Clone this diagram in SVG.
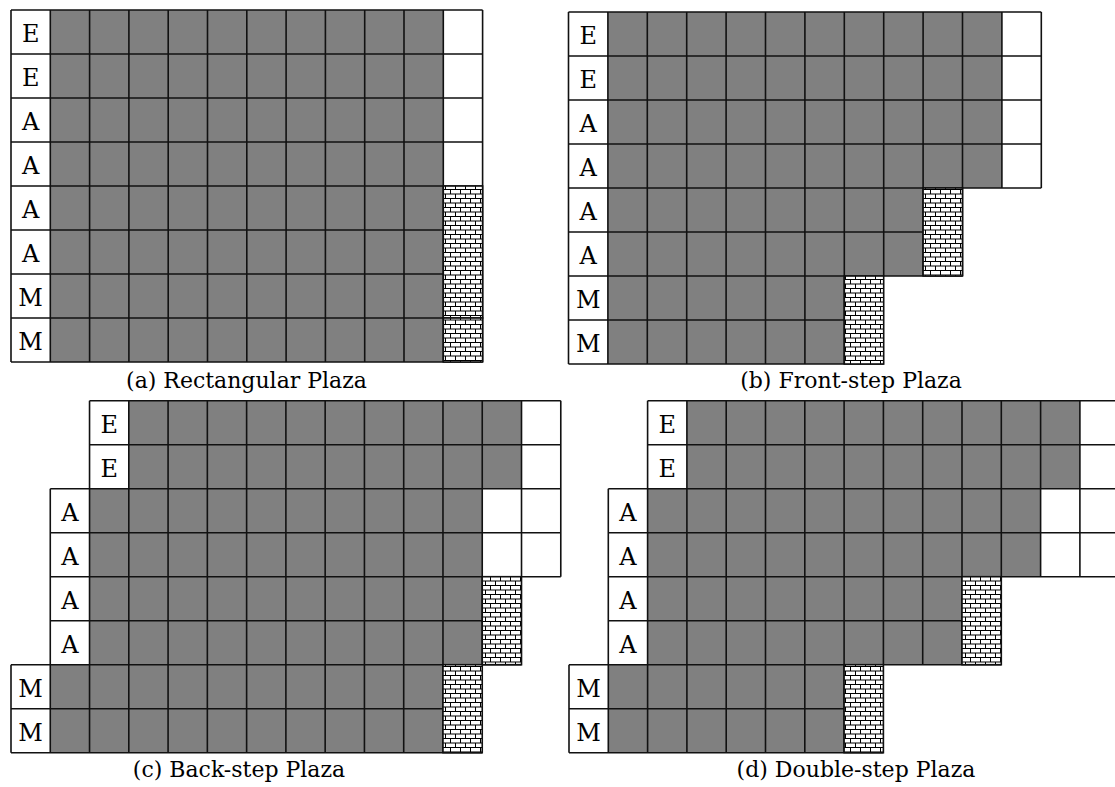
<svg xmlns="http://www.w3.org/2000/svg" width="1115" height="787" viewBox="0 0 1115 787">
<style>
.w{fill:#fff}
.g{fill:#808080}
.b{fill:url(#brick);stroke:#111;stroke-width:1.6}
.grid{fill:none;stroke:#111;stroke-width:1.6}
.lt{font-family:"DejaVu Serif","Liberation Serif",serif;font-size:24px;fill:#000;text-anchor:middle}
.cap{font-family:"DejaVu Serif","Liberation Serif",serif;font-size:22px;fill:#000;text-anchor:middle}
</style>
<defs>
<pattern id="brick" patternUnits="userSpaceOnUse" width="10" height="9">
<rect width="10" height="9" fill="#fff"/>
<path d="M0 0.5H10M0 5H10M0.5 0.5V5M5.5 5V9" fill="none" stroke="#000" stroke-width="1"/>
</pattern>
</defs>
<rect width="1115" height="787" fill="#fff"/>

<g id="panel-a">
<rect class="w" x="11" y="10" width="39.3" height="352"/>
<rect class="g" x="50.3" y="10" width="393" height="352"/>
<rect class="w" x="443.3" y="10" width="39.3" height="176"/>
<path class="grid" d="M11 10H482.6M11 54H482.6M11 98H482.6M11 142H482.6M11 186H482.6M11 230H443.3M11 274H443.3M11 318H443.3M11 362H482.6
M11 10V362M50.3 10V362M89.6 10V362M128.9 10V362M168.2 10V362M207.5 10V362M246.8 10V362M286.1 10V362M325.4 10V362M364.7 10V362M404 10V362M443.3 10V362M482.6 10V362"/>
<rect class="b" x="443.3" y="186" width="39.3" height="132"/>
<rect class="b" x="443.3" y="318" width="39.3" height="44"/>
<text class="lt" x="30.65" y="42">E</text>
<text class="lt" x="30.65" y="86">E</text>
<text class="lt" x="30.65" y="130">A</text>
<text class="lt" x="30.65" y="174">A</text>
<text class="lt" x="30.65" y="218">A</text>
<text class="lt" x="30.65" y="262">A</text>
<text class="lt" x="30.65" y="306">M</text>
<text class="lt" x="30.65" y="350">M</text>
<text class="cap" x="246.5" y="388">(a) Rectangular Plaza</text>
</g>

<g id="panel-b">
<rect class="w" x="568.5" y="12" width="39.4" height="352"/>
<rect class="g" x="607.9" y="12" width="394" height="176"/>
<rect class="w" x="1001.9" y="12" width="39.4" height="176"/>
<rect class="g" x="607.9" y="188" width="315.2" height="88"/>
<rect class="g" x="607.9" y="276" width="236.4" height="88"/>
<path class="grid" d="M568.5 12H1041.3M568.5 56H1041.3M568.5 100H1041.3M568.5 144H1041.3M568.5 188H1041.3M568.5 232H923.1M568.5 276H962.5M568.5 320H844.3M568.5 364H883.7
M568.5 12V364M607.9 12V364M647.3 12V364M686.7 12V364M726.1 12V364M765.5 12V364M804.9 12V364M844.3 12V364
M883.7 12V276M923.1 12V276M962.5 12V276M1001.9 12V188M1041.3 12V188"/>
<rect class="b" x="923.1" y="188" width="39.4" height="88"/>
<rect class="b" x="844.3" y="276" width="39.4" height="88"/>
<text class="lt" x="588.2" y="44">E</text>
<text class="lt" x="588.2" y="88">E</text>
<text class="lt" x="588.2" y="132">A</text>
<text class="lt" x="588.2" y="176">A</text>
<text class="lt" x="588.2" y="220">A</text>
<text class="lt" x="588.2" y="264">A</text>
<text class="lt" x="588.2" y="308">M</text>
<text class="lt" x="588.2" y="352">M</text>
<text class="cap" x="851" y="388">(b) Front-step Plaza</text>
</g>

<g id="panel-c">
<rect class="w" x="89.54" y="400.7" width="39.27" height="88"/>
<rect class="g" x="128.81" y="400.7" width="392.7" height="88"/>
<rect class="w" x="521.51" y="400.7" width="39.27" height="88"/>
<rect class="w" x="50.27" y="488.7" width="39.27" height="176"/>
<rect class="g" x="89.54" y="488.7" width="392.7" height="176"/>
<rect class="w" x="482.24" y="488.7" width="78.54" height="88"/>
<rect class="w" x="11" y="664.7" width="39.27" height="88"/>
<rect class="g" x="50.27" y="664.7" width="392.7" height="88"/>
<path class="grid" d="M89.54 400.7H560.78M89.54 444.7H560.78M50.27 488.7H560.78M50.27 532.7H560.78M50.27 576.7H560.78M50.27 620.7H482.24M11 664.7H521.51M11 708.7H442.97M11 752.7H482.24
M11 664.7V752.7M50.27 488.7V752.7M89.54 400.7V752.7M128.81 400.7V752.7M168.08 400.7V752.7M207.35 400.7V752.7M246.62 400.7V752.7M285.89 400.7V752.7M325.16 400.7V752.7M364.43 400.7V752.7M403.7 400.7V752.7M442.97 400.7V752.7
M482.24 400.7V664.7M521.51 400.7V576.7M560.78 400.7V576.7"/>
<rect class="b" x="482.24" y="576.7" width="39.27" height="88"/>
<rect class="b" x="442.97" y="664.7" width="39.27" height="88"/>
<text class="lt" x="109.2" y="432.7">E</text>
<text class="lt" x="109.2" y="476.7">E</text>
<text class="lt" x="69.9" y="520.7">A</text>
<text class="lt" x="69.9" y="564.7">A</text>
<text class="lt" x="69.9" y="608.7">A</text>
<text class="lt" x="69.9" y="652.7">A</text>
<text class="lt" x="30.6" y="696.7">M</text>
<text class="lt" x="30.6" y="740.7">M</text>
<text class="cap" x="239" y="777">(c) Back-step Plaza</text>
</g>

<g id="panel-d">
<rect class="w" x="647.6" y="400.7" width="39.3" height="88"/>
<rect class="g" x="686.9" y="400.7" width="393" height="88"/>
<rect class="w" x="1079.9" y="400.7" width="39.3" height="88"/>
<rect class="w" x="608.3" y="488.7" width="39.3" height="176"/>
<rect class="g" x="647.6" y="488.7" width="393" height="88"/>
<rect class="w" x="1040.6" y="488.7" width="78.6" height="88"/>
<rect class="g" x="647.6" y="576.7" width="314.4" height="88"/>
<rect class="w" x="569" y="664.7" width="39.3" height="88"/>
<rect class="g" x="608.3" y="664.7" width="235.8" height="88"/>
<path class="grid" d="M647.6 400.7H1119.2M647.6 444.7H1119.2M608.3 488.7H1119.2M608.3 532.7H1119.2M608.3 576.7H1119.2M608.3 620.7H962M569 664.7H1001.3M569 708.7H844.1M569 752.7H883.4
M569 664.7V752.7M608.3 488.7V752.7M647.6 400.7V752.7M686.9 400.7V752.7M726.2 400.7V752.7M765.5 400.7V752.7M804.8 400.7V752.7M844.1 400.7V752.7
M883.4 400.7V664.7M922.7 400.7V664.7M962 400.7V664.7M1001.3 400.7V576.7M1040.6 400.7V576.7M1079.9 400.7V576.7M1119.2 400.7V576.7"/>
<rect class="b" x="962" y="576.7" width="39.3" height="88"/>
<rect class="b" x="844.1" y="664.7" width="39.3" height="88"/>
<text class="lt" x="667.25" y="432.7">E</text>
<text class="lt" x="667.25" y="476.7">E</text>
<text class="lt" x="627.95" y="520.7">A</text>
<text class="lt" x="627.95" y="564.7">A</text>
<text class="lt" x="627.95" y="608.7">A</text>
<text class="lt" x="627.95" y="652.7">A</text>
<text class="lt" x="588.65" y="696.7">M</text>
<text class="lt" x="588.65" y="740.7">M</text>
<text class="cap" x="856" y="777">(d) Double-step Plaza</text>
</g>
</svg>
